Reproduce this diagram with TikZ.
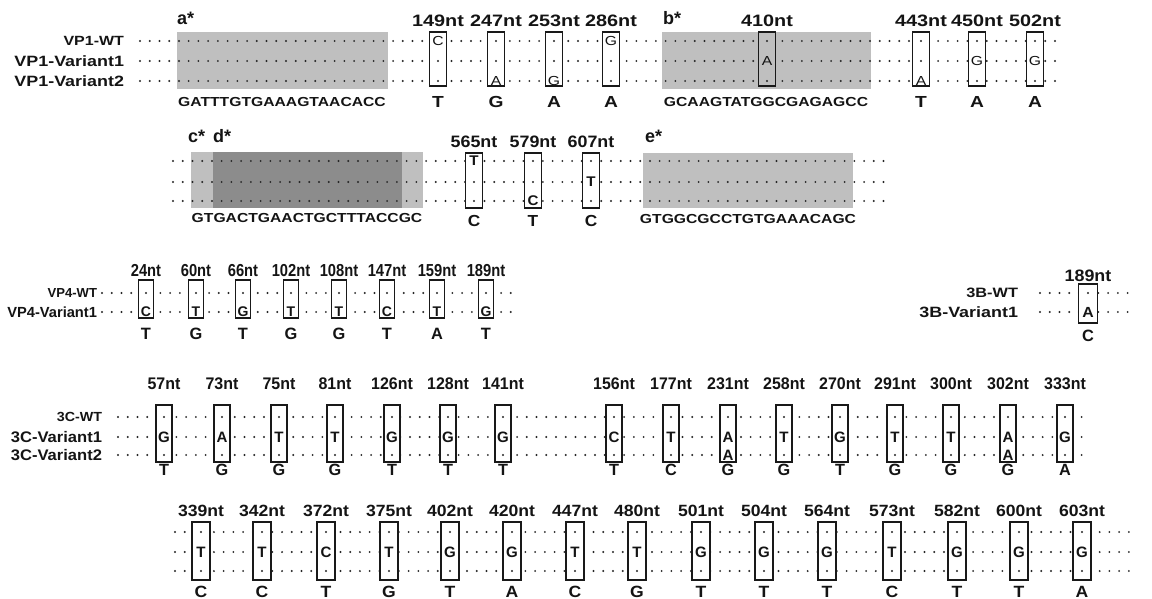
\documentclass[tikz,border=0pt]{standalone}
\usepackage{fontspec}
\setmainfont{Liberation Sans}
\newfontfamily\fw{Liberation Sans}[FakeStretch=1.2]
\newfontfamily\fm{Liberation Sans}[FakeStretch=1.08]
\newfontfamily\fr{Liberation Sans}
\newfontfamily\fn{Liberation Sans}[FakeStretch=0.95]
\newfontfamily\fnn{Liberation Sans}[FakeStretch=0.85]
\def\grp{\fw}
\def\dotchar{.}
\def\Bfill{white}
\tikzset{
  every node/.style={inner sep=0pt, outer sep=0pt, text=black!92},
  seqdots/.style={line width=1.6pt, line cap=round, dash pattern=on 0pt off 7.3pt, black!85},
  snpbox/.style={draw=black!90, line width=1.4pt, fill=\Bfill},
  ntlab/.style={font=\grp\fontsize{12.4}{14}\selectfont\bfseries},
  baselab/.style={font=\grp\fontsize{12}{14}\selectfont\bfseries},
  rowlab/.style={anchor=east},
  seqlab/.style={font=\fw\fontsize{9.8}{12}\selectfont\bfseries},
  starlab/.style={font=\fr\fontsize{13.5}{15}\selectfont\bfseries, anchor=base west},
  celltext/.style={font=\grp\fontsize{11}{13}\selectfont\bfseries},
  hl/.style={fill=black!25},
  hldark/.style={fill=black!45},
}
\newcommand\mkcell[4]{%
  \edef\cellc{#4}%
  \ifx\cellc\dotchar
    \coordinate (#1) at (#2,#3);
    \fill[black!85] (#1) circle[radius=0.85pt];
  \else
    \ifx\cellc\empty\else
      \node[celltext] (#1) at (#2,#3) {#4};
    \fi
  \fi}
\newcommand\snpcol[7]{%
  \node[snpbox, minimum width=\Bw*0.75pt, minimum height=(\Ybot-\Ytop)*0.75pt] (#1) at (#2,{(\Ytop+\Ybot)/2}) {};
  \node[ntlab] (#1-lab) at (#2,\Ylab) {#3};
  \mkcell{#1-a}{#2}{\Ya}{#4}%
  \mkcell{#1-b}{#2}{\Yb}{#5}%
  \mkcell{#1-c}{#2}{\Yc}{#6}%
  \node[baselab] (#1-base) at (#2,\Ybase) {#7};
}
\begin{document}
\begin{tikzpicture}[x=0.75pt,y=-0.75pt]
\useasboundingbox[fill=white] (0,0) rectangle (1152,599);

% ---------------- VP1 row 1 ----------------
\def\grp{\fw}
\def\Ya{41}\def\Yb{61}\def\Yc{81}\def\Ytop{32}\def\Ybot{86}\def\Ylab{21}\def\Ybase{102}\def\Bw{17}
\fill[hl] (177,32) rectangle (388,89);
\fill[hl] (662,32) rectangle (871,89);
\node[starlab] (astar) at (177,25) {a*};
\node[starlab] (bstar) at (663,25) {b*};
\node[seqlab] (seqa) at (282,102) {GATTTGTGAAAGTAACACC};
\node[seqlab] (seqb) at (766,102) {GCAAGTATGGCGAGAGCC};
\node[rowlab, font=\fw\fontsize{10}{12}\selectfont\bfseries] (vp1wt) at (124,41) {VP1-WT};
\node[rowlab, font=\fw\fontsize{11.2}{13}\selectfont\bfseries] (vp1v1) at (124,61) {VP1-Variant1};
\node[rowlab, font=\fw\fontsize{11.2}{13}\selectfont\bfseries] (vp1v2) at (124,81) {VP1-Variant2};
\coordinate (r1s) at (140,0); \coordinate (r1e) at (1062,0);
\foreach \yy in {41,61,81} \draw[seqdots] (r1s |- 0,\yy) -- (r1e |- 0,\yy);
\tikzset{celltext/.style={font=\fw\fontsize{9.8}{11}\selectfont}}
\snpcol{v149}{438}{149nt}{C}{.}{.}{T}
\snpcol{v247}{496}{247nt}{.}{.}{A}{G}
\snpcol{v253}{554}{253nt}{.}{.}{G}{A}
\snpcol{v286}{611}{286nt}{G}{.}{.}{A}
\def\Bfill{black!25}
\snpcol{v410}{767}{410nt}{.}{A}{.}{}
\def\Bfill{white}
\snpcol{v443}{921}{443nt}{.}{.}{A}{T}
\snpcol{v450}{977}{450nt}{.}{G}{.}{A}
\snpcol{v502}{1035}{502nt}{.}{G}{.}{A}

% ---------------- VP1 row 2 ----------------
\def\grp{\fm}
\def\Ya{161}\def\Yb{182}\def\Yc{201}\def\Ytop{153}\def\Ybot{208}\def\Ylab{142}\def\Ybase{221}\def\Bw{17}
\fill[hl] (191,152) rectangle (423,208);
\fill[hldark] (213,152) rectangle (402,208);
\fill[hl] (643,153) rectangle (853,208);
\node[starlab] (cstar) at (188,143) {c*};
\node[starlab] (dstar) at (213,143) {d*};
\node[starlab] (estar) at (645,143) {e*};
\node[seqlab] (seqc) at (307,218) {GTGACTGAACTGCTTTACCGC};
\node[seqlab] (seqe) at (748,219) {GTGGCGCCTGTGAAACAGC};
\coordinate (r2s) at (173,0); \coordinate (r2e) at (893,0);
\foreach \yy in {161,182,201} \draw[seqdots] (r2s |- 0,\yy) -- (r2e |- 0,\yy);
\tikzset{celltext/.style={font=\grp\fontsize{10.5}{12}\selectfont\bfseries}}
\snpcol{v565}{474}{565nt}{T}{.}{.}{C}
\snpcol{v579}{533}{579nt}{.}{.}{C}{T}
\snpcol{v607}{591}{607nt}{.}{T}{.}{C}

% ---------------- VP4 ----------------
\def\grp{\fnn}
\def\Ya{293}\def\Yb{312}\def\Yc{0}\def\Ytop{280}\def\Ybot{318}\def\Ylab{271}\def\Ybase{334}\def\Bw{15}
\node[rowlab, font=\fr\fontsize{9.8}{11}\selectfont\bfseries] (vp4wt) at (97,293) {VP4-WT};
\node[rowlab, font=\fr\fontsize{11}{13}\selectfont\bfseries] (vp4v1) at (97,312) {VP4-Variant1};
\coordinate (r3s) at (102,0); \coordinate (r3e) at (513,0);
\foreach \yy in {293,312} \draw[seqdots] (r3s |- 0,\yy) -- (r3e |- 0,\yy);
\tikzset{celltext/.style={font=\fr\fontsize{10.5}{12}\selectfont\bfseries}}
\tikzset{ntlab/.style={font=\fnn\fontsize{13}{15}\selectfont\bfseries}}
\tikzset{baselab/.style={font=\fr\fontsize{12.3}{14}\selectfont\bfseries}}
\foreach \p/\x/\s/\b in {24/146/C/T,60/196/T/G,66/243/G/T,102/291/T/G,108/339/T/G,147/387/C/T,159/437/T/A,189/486/G/T}
  {\snpcol{p4-\p}{\x}{\p nt}{.}{\s}{}{\b}}

% ---------------- 3B ----------------
\def\grp{\fm}
\tikzset{ntlab/.style={font=\fm\fontsize{12.4}{14}\selectfont\bfseries}}
\def\Ya{293}\def\Yb{312}\def\Yc{0}\def\Ytop{284}\def\Ybot{323}\def\Ylab{276}\def\Ybase{336}\def\Bw{19}
\node[rowlab, font=\fw\fontsize{10.2}{12}\selectfont\bfseries] (b3wt) at (1018,293) {3B-WT};
\node[rowlab, font=\fw\fontsize{11.2}{13}\selectfont\bfseries] (b3v1) at (1018,312) {3B-Variant1};
\coordinate (r4s) at (1040,0); \coordinate (r4e) at (1137,0);
\foreach \yy in {293,312} \draw[seqdots] (r4s |- 0,\yy) -- (r4e |- 0,\yy);
\tikzset{celltext/.style={font=\grp\fontsize{11}{13}\selectfont\bfseries}}
\snpcol{b3-189}{1088}{189nt}{.}{A}{}{C}

% ---------------- 3C row 1 ----------------
\def\grp{\fn}
\def\Ya{417}\def\Yb{437}\def\Yc{455}\def\Ytop{405}\def\Ybot{462}\def\Ylab{384}\def\Ybase{470}\def\Bw{16}
\node[rowlab, font=\fm\fontsize{9.9}{12}\selectfont\bfseries] (c3wt) at (102,417) {3C-WT};
\node[rowlab, font=\fm\fontsize{11.5}{13}\selectfont\bfseries] (c3v1) at (102,437) {3C-Variant1};
\node[rowlab, font=\fm\fontsize{11.5}{13}\selectfont\bfseries] (c3v2) at (102,455) {3C-Variant2};
\coordinate (r5s) at (118,0); \coordinate (r5e) at (1087,0);
\foreach \yy in {417,437,455} \draw[seqdots] (r5s |- 0,\yy) -- (r5e |- 0,\yy);
\tikzset{ntlab/.style={font=\fn\fontsize{12.6}{14}\selectfont\bfseries}}
\tikzset{baselab/.style={font=\fr\fontsize{12.2}{14}\selectfont\bfseries}}
\tikzset{celltext/.style={font=\fr\fontsize{11.3}{13}\selectfont\bfseries}}
\foreach \p/\x/\s/\t/\b in {57/164/G/./T,73/222/A/./G,75/279/T/./G,81/335/T/./G,126/392/G/./T,128/448/G/./T,141/503/G/./T,156/614/C/./T,177/671/T/./C,231/728/A/A/G,258/784/T/./G,270/840/G/./T,291/895/T/./G,300/951/T/./G,302/1008/A/A/G,333/1065/G/./A}
  {\snpcol{c3-\p}{\x}{\p nt}{.}{\s}{\t}{\b}}

% ---------------- 3C row 2 ----------------
\def\grp{\fm}
\tikzset{ntlab/.style={font=\fm\fontsize{12.2}{14}\selectfont\bfseries}}
\tikzset{baselab/.style={font=\fm\fontsize{12.2}{14}\selectfont\bfseries}}
\def\Ya{532}\def\Yb{552}\def\Yc{571}\def\Ytop{522}\def\Ybot{580}\def\Ylab{511}\def\Ybase{592}\def\Bw{18}
\coordinate (r6s) at (175,0); \coordinate (r6e) at (1133,0);
\foreach \yy in {532,552,571} \draw[seqdots] (r6s |- 0,\yy) -- (r6e |- 0,\yy);
\foreach \p/\x/\s/\b in {339/201/T/C,342/262/T/C,372/326/C/T,375/389/T/G,402/450/G/T,420/512/G/A,447/575/T/C,480/637/T/G,501/701/G/T,504/764/G/T,564/827/G/T,573/892/T/C,582/957/G/T,600/1019/G/T,603/1082/G/A}
  {\snpcol{d3-\p}{\x}{\p nt}{.}{\s}{.}{\b}}
\end{tikzpicture}
\end{document}
